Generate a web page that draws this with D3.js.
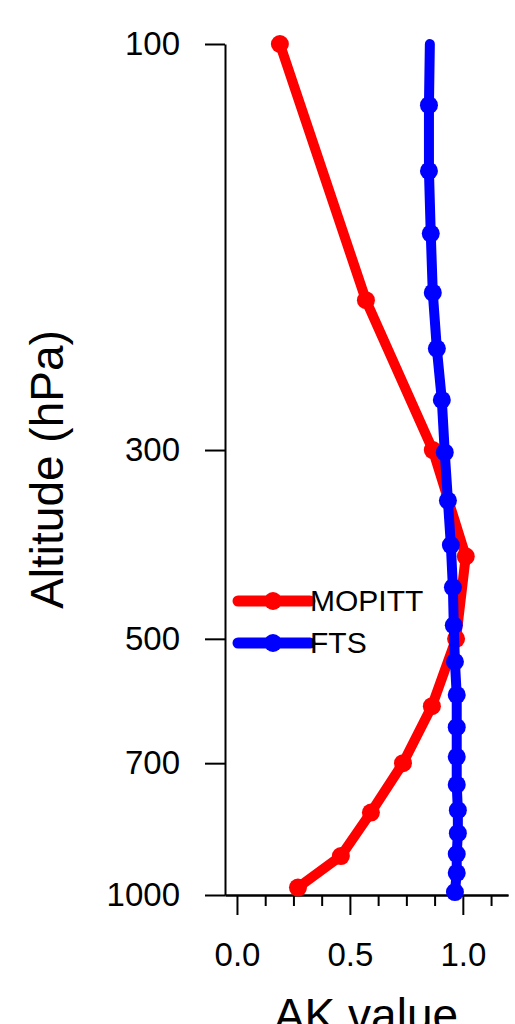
<!DOCTYPE html>
<html>
<head>
<meta charset="utf-8">
<script src="https://cdn.jsdelivr.net/npm/d3@7"></script>
<style>
	body { margin: 0; background: #fff; }
	text { font-family: "Liberation Sans", Arial, sans-serif; fill: #000; }
</style>
</head>
<body>
<svg id="chart" width="515" height="1024"></svg>
<script>
// MOPITT averaging kernel row (pressure levels in hPa)
var mopittPres = [100, 200, 300, 400, 500, 600, 700, 800, 900, 980];
var mopittAK   = [0.19, 0.571, 0.867, 1.013, 0.97, 0.863, 0.735, 0.593, 0.46, 0.27];

// FTS averaging kernel row
var ftsPres = [100, 118, 141, 167, 196, 228, 262, 302, 344, 388, 435, 482, 532, 582, 635, 688, 742, 795, 846, 895, 942, 992];
var ftsAK   = [0.854, 0.85, 0.85, 0.858, 0.867, 0.885, 0.907, 0.92, 0.934, 0.947, 0.956, 0.96, 0.965, 0.973, 0.973, 0.973, 0.973, 0.978, 0.978, 0.973, 0.973, 0.965];

var yTicks = [100, 300, 500, 700, 1000];
var xTicks = [0, 0.5, 1.0];
var xMinorTicks = [0.125, 0.25, 0.375, 0.625, 0.75, 0.875, 1.125];

var seriesNames = ["MOPITT", "FTS"];
var seriesColors = ["#ff0000", "#0000ff"];

var svg = d3.select("#chart");

var x = d3.scaleLinear().domain([-0.053, 1.2]).range([225, 508]);
var y = d3.scaleLog().domain([100, 1000]).range([44, 895]);

// x axis, minor ticks first
svg.append("g")
	.attr("transform", "translate(0," + y(1000) + ")")
	.call(d3.axisBottom(x).tickValues(xMinorTicks).tickSize(11).tickSizeOuter(0).tickFormat(""))
	.call(function(g) { g.selectAll("line, path").attr("stroke", "#000").attr("stroke-width", 2); });

svg.append("g")
	.attr("transform", "translate(0," + y(1000) + ")")
	.call(d3.axisBottom(x).tickValues(xTicks).tickSize(20).tickSizeOuter(0).tickPadding(28)
		.tickFormat(d3.format(".1f")))
	.call(function(g) {
		g.selectAll("line, path").attr("stroke", "#000").attr("stroke-width", 2);
		g.selectAll("text").attr("font-size", 33).attr("font-family", null).attr("fill", "#000");
	});

// y axis
svg.append("g")
	.attr("transform", "translate(" + x.range()[0] + ",0)")
	.call(d3.axisLeft(y).tickValues(yTicks).tickSize(20).tickSizeOuter(0).tickPadding(25)
		.tickFormat(d3.format("d")))
	.call(function(g) {
		g.selectAll("line, path").attr("stroke", "#000").attr("stroke-width", 2);
		g.selectAll("text").attr("font-size", 33).attr("font-family", null).attr("fill", "#000");
	});

// axis titles
svg.append("text")
	.attr("x", 366)
	.attr("y", 1031)
	.attr("text-anchor", "middle")
	.attr("font-size", 46)
	.text("AK value");

svg.append("text")
	.attr("transform", "translate(63," + (y(100) + y(1000)) / 2 + ") rotate(-90)")
	.attr("text-anchor", "middle")
	.attr("font-size", 46)
	.text("Altitude (hPa)");

var line = d3.line()
	.x(function(d) { return x(d.ak); })
	.y(function(d) { return y(d.p); });

function zipSeries(pres, ak) {
	return pres.map(function(p, i) { return {p: p, ak: ak[i]}; });
}

var series = [zipSeries(mopittPres, mopittAK), zipSeries(ftsPres, ftsAK)];

series.forEach(function(data, k) {
	svg.append("path")
		.datum(data)
		.attr("fill", "none")
		.attr("stroke", seriesColors[k])
		.attr("stroke-width", 10)
		.attr("stroke-linecap", "round")
		.attr("stroke-linejoin", "round")
		.attr("d", line);

	// the FTS top level has no marker in the original
	svg.selectAll(".dot" + k)
		.data(k == 1 ? data.slice(1) : data)
	  .enter().append("circle")
		.attr("class", "dot" + k)
		.attr("cx", function(d) { return x(d.ak); })
		.attr("cy", function(d) { return y(d.p); })
		.attr("r", 9)
		.attr("fill", seriesColors[k]);
});

// legend
var legendY = [601, 643];
seriesNames.forEach(function(name, k) {
	var lg = svg.append("g").attr("transform", "translate(0," + legendY[k] + ")");
	lg.append("line")
		.attr("x1", 238).attr("x2", 310)
		.attr("stroke", seriesColors[k])
		.attr("stroke-width", 11)
		.attr("stroke-linecap", "round");
	lg.append("circle")
		.attr("cx", 273).attr("r", 9)
		.attr("fill", seriesColors[k]);
	lg.append("text")
		.attr("x", 310)
		.attr("y", 10)
		.attr("font-size", 30)
		.text(name);
});
</script>
</body>
</html>
